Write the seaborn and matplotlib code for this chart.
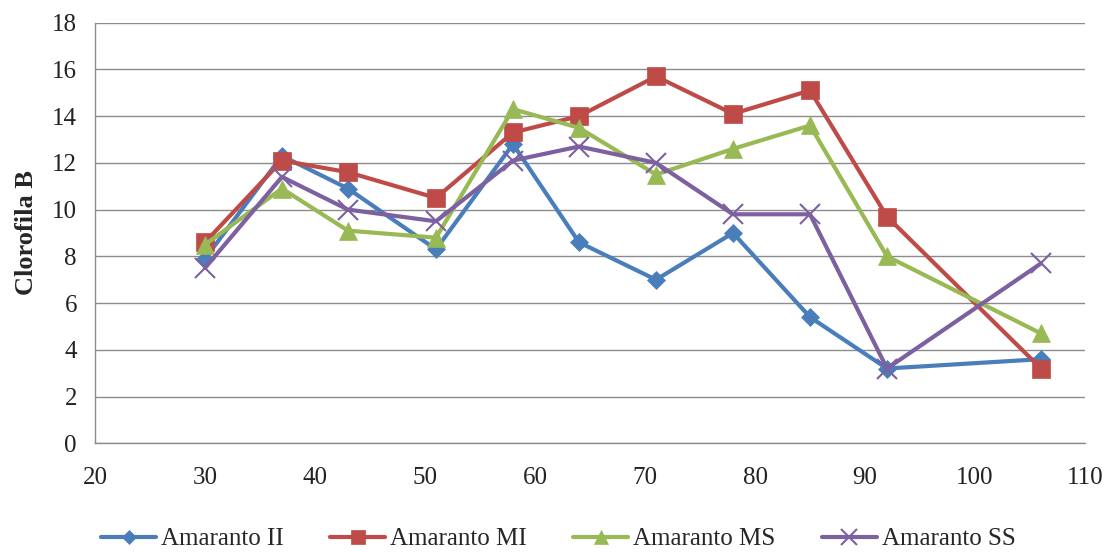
import matplotlib
matplotlib.use("Agg")
import matplotlib.pyplot as plt
import seaborn as sns
import pandas as pd

# Days after sowing
dias = [30, 37, 43, 51, 58, 64, 71, 78, 85, 92, 106]

# Chlorophyll B for each amaranth treatment
amaranto_ii = [7.9, 12.3, 10.9, 8.3, 12.8, 8.6, 7.0, 9.0, 5.4, 3.2, 3.6]
amaranto_mi = [8.6, 12.1, 11.6, 10.5, 13.3, 14.0, 15.7, 14.1, 15.1, 9.7, 3.2]
amaranto_ms = [8.5, 10.9, 9.1, 8.8, 14.3, 13.5, 11.5, 12.6, 13.6, 8.0, 4.7]
amaranto_ss = [7.5, 11.4, 10.0, 9.5, 12.1, 12.7, 12.0, 9.8, 9.8, 3.2, 7.7]

series_names = ["Amaranto II", "Amaranto MI", "Amaranto MS", "Amaranto SS"]
series_values = [amaranto_ii, amaranto_mi, amaranto_ms, amaranto_ss]

x_ticks = [20, 30, 40, 50, 60, 70, 80, 90, 100, 110]
y_ticks = [0, 2, 4, 6, 8, 10, 12, 14, 16, 18]

colors = ["#4A7EBB", "#BE4B48", "#98B954", "#7D60A0"]
markers = ["D", "s", "^", "x"]
marker_sizes = [9, 13, 13, 14]

sns.set_style("white")
plt.rcParams["font.family"] = ["Liberation Serif", "DejaVu Serif"]

df = pd.DataFrame({
    "dia": dias * len(series_names),
    "valor": sum(series_values, []),
    "serie": [n for n in series_names for _ in dias],
})

fig = plt.figure(figsize=(11.17, 5.53), dpi=100)
ax = fig.add_axes([0.085, 0.1984, 0.8864, 0.7606])

for name, col, mk, ms in zip(series_names, colors, markers, marker_sizes):
    sub = df[df["serie"] == name]
    sns.lineplot(data=sub, x="dia", y="valor", ax=ax, color=col, linewidth=3,
                 marker=mk, markersize=ms, markeredgecolor=col,
                 markeredgewidth=1.5 if mk == "x" else 0.5,
                 label=name, sort=False)

ax.set_xlim(20, 110)
ax.set_ylim(0, 18)
ax.set_xticks(x_ticks)
ax.set_yticks(y_ticks)
ax.tick_params(axis="both", labelsize=18, colors="#222222", width=1,
               direction="out")
ax.tick_params(axis="x", color="#888888", length=9, pad=8)
ax.tick_params(axis="y", color="#888888", length=7, pad=6)

ax.grid(axis="y", color="#8c8c8c", linewidth=1)
ax.grid(axis="x", visible=False)
ax.set_axisbelow(True)
for side in ["top", "right"]:
    ax.spines[side].set_visible(False)
for side in ["left", "bottom"]:
    ax.spines[side].set_color("#8c8c8c")
    ax.spines[side].set_linewidth(1)

ax.set_xlabel("")
ax.set_ylabel("Clorofila B", fontsize=19, fontweight="bold", labelpad=10)

leg = ax.legend(loc="center", bbox_to_anchor=(0.468, -0.228), ncol=4,
                frameon=False, fontsize=18, handlelength=2.2,
                columnspacing=1.85, handletextpad=0.2, markerscale=0.8)

fig.savefig("out.png", dpi=100)
